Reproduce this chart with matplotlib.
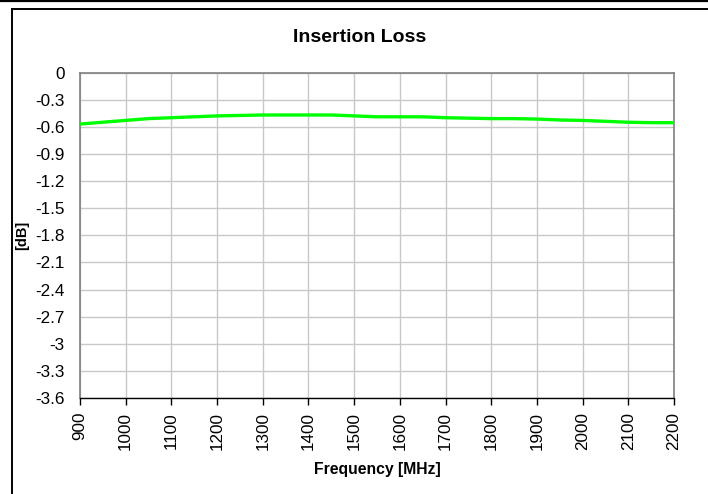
import matplotlib
matplotlib.use("Agg")
import matplotlib.pyplot as plt
from matplotlib.lines import Line2D
import numpy as np

plt.rcParams['font.family'] = ['Liberation Sans', 'DejaVu Sans']

# insertion loss curve
freq = [900, 950, 1000, 1050, 1100, 1150, 1200, 1250, 1300, 1350, 1400, 1450, 1500,
        1550, 1600, 1650, 1700, 1750, 1800, 1850, 1900, 1950, 2000, 2050, 2100, 2150, 2200]
loss = [-0.57, -0.55, -0.53, -0.51, -0.50, -0.49, -0.48, -0.475, -0.47, -0.47, -0.47, -0.47, -0.48,
        -0.49, -0.49, -0.49, -0.50, -0.505, -0.51, -0.51, -0.515, -0.525, -0.53, -0.54, -0.55, -0.555, -0.555]

xticks = list(range(900, 2201, 100))
yticks = [0, -0.3, -0.6, -0.9, -1.2, -1.5, -1.8, -2.1, -2.4, -2.7, -3, -3.3, -3.6]
ylabels = ["0", "-0.3", "-0.6", "-0.9", "-1.2", "-1.5", "-1.8", "-2.1", "-2.4", "-2.7", "-3", "-3.3", "-3.6"]

W, H = 708, 494
fig = plt.figure(figsize=(W/100, H/100), dpi=100)
ax = fig.add_axes([80/W, 1-398/H, (674-80)/W, (398-72.5)/H])

ax.plot(freq, loss, color="#00ff00", lw=2.4, solid_capstyle="butt", zorder=3)

ax.set_xlim(900, 2200)
ax.set_ylim(-3.6, 0)
ax.set_xticks(xticks)
ax.set_xticklabels([str(v) for v in xticks], rotation=90, fontsize=12.3)
ax.set_yticks(yticks)
ax.set_yticklabels(ylabels, fontsize=12.3)
ax.grid(True, color="#c8c8c8", lw=1.0)
ax.set_axisbelow(True)

for s in ["left", "top", "right"]:
    ax.spines[s].set_color("#808080")
    ax.spines[s].set_linewidth(1.2)
ax.spines["bottom"].set_color("#000000")
ax.spines["bottom"].set_linewidth(1.0)
ax.tick_params(axis="x", direction="out", length=5, width=1, color="black", pad=5)
ax.tick_params(axis="y", length=0, pad=11)

ax.set_title("Insertion Loss", fontsize=14, fontweight="bold", pad=22, x=0.471)
ax.set_xlabel("Frequency [MHz]", fontsize=11.3, fontweight="bold", labelpad=8.5)
ax.set_ylabel("[dB]", fontsize=10.5, fontweight="bold")
ax.yaxis.set_label_coords(-0.086, 0.5)

# outer frame (cropped at right and bottom)
fig.add_artist(Line2D([0, 1], [1-0.8/H, 1-0.8/H], color="black", lw=1.6, transform=fig.transFigure))
fig.add_artist(Line2D([12/W, 1], [1-8.8/H, 1-8.8/H], color="black", lw=1.4, transform=fig.transFigure))
fig.add_artist(Line2D([12/W, 12/W], [0, 1-8.8/H], color="black", lw=1.4, transform=fig.transFigure))

fig.savefig("out.png", dpi=100)
